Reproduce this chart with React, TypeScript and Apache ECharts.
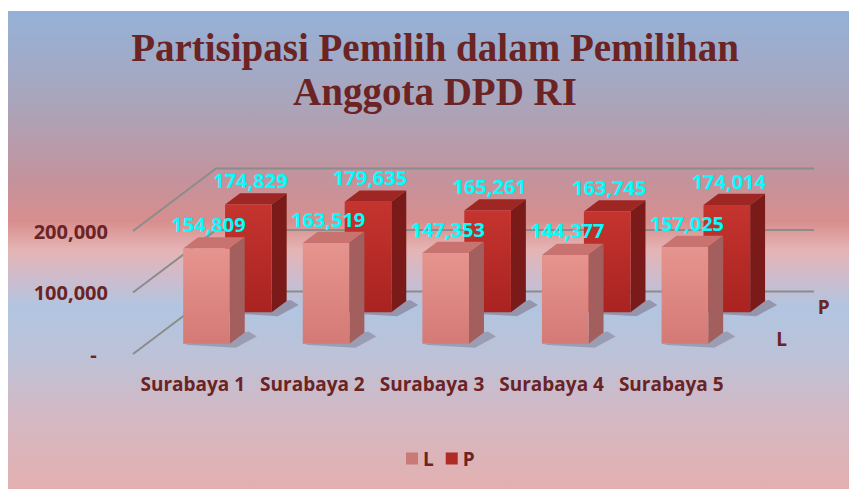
import React, { useEffect, useRef } from "react";
import * as echarts from "echarts";

// ---- data ----
const categories = ["Surabaya 1", "Surabaya 2", "Surabaya 3", "Surabaya 4", "Surabaya 5"];
const valuesL = [154809, 163519, 147353, 144377, 157025];
const valuesP = [174829, 179635, 165261, 163745, 174014];
const yTicks = [0, 100000, 200000];
const seriesNames = ["L", "P"];
const titleLines = ["Partisipasi Pemilih dalam Pemilihan", "Anggota DPD RI"];

// ---- 3D geometry (pixels) ----
const DX = 83;
const DY = -62.5;
const ROW_DEPTH: Record<string, number> = { L: 0.165, P: 0.67 };
const BAR_DEPTH = 0.18;
const BAR_WIDTH = 0.39;

const TEXT_DARK = "#6b2323";
const FONT = "'Open Sans', 'Noto Sans', sans-serif";

const fmt = (v: number) => v.toLocaleString("en-US");

function lg(stops: [number, string][], horizontal = false) {
  return new echarts.graphic.LinearGradient(0, 0, horizontal ? 1 : 0, horizontal ? 0 : 1,
    stops.map(([offset, color]) => ({ offset, color })));
}

const faceColors: Record<string, { front: any; side: string; top: string; shadow: string }> = {
  L: {
    front: lg([[0, "#e6948f"], [1, "#d47a76"]]),
    side: "#a35f5d",
    top: "#c8736f",
    shadow: "rgba(80,60,80,0.28)",
  },
  P: {
    front: lg([[0, "#c5342f"], [1, "#a92320"]]),
    side: "#7a1b19",
    top: "#9e2623",
    shadow: "rgba(80,40,60,0.30)",
  },
};

function barRenderer(name: string) {
  const f = ROW_DEPTH[name];
  const c = faceColors[name];
  return (params: any, api: any) => {
    const idx = api.value(0);
    const val = api.value(1);
    const base = api.coord([idx, 0]);
    const topP = api.coord([idx, val]);
    const band = api.size([1, 0])[0];
    const w = band * BAR_WIDTH;
    const ox = f * DX;
    const oy = f * DY;
    const x0 = base[0] - w / 2 + ox;
    const x1 = x0 + w;
    const yb = base[1] + oy;
    const yt = topP[1] + oy;
    const dx = BAR_DEPTH * DX;
    const dy = BAR_DEPTH * DY;
    return {
      type: "group",
      children: [
        {
          type: "polygon",
          shape: {
            points: [
              [x0 + 2, yb + 1],
              [x1 + 6, yb + 4],
              [x1 + dx + 12, yb + dy + 4],
              [x1 + dx + 4, yb + dy - 1],
            ],
          },
          style: { fill: c.shadow },
        },
        {
          type: "polygon",
          shape: { points: [[x0, yt], [x0 + dx, yt + dy], [x1 + dx, yt + dy], [x1, yt]] },
          style: { fill: c.top },
        },
        {
          type: "polygon",
          shape: { points: [[x1, yt], [x1 + dx, yt + dy], [x1 + dx, yb + dy], [x1, yb]] },
          style: { fill: c.side },
        },
        {
          type: "rect",
          shape: { x: x0, y: yt, width: w, height: yb - yt },
          style: { fill: c.front },
        },
        {
          type: "text",
          x: x0 + w / 2 + 2,
          y: yt - 24,
          style: {
            text: fmt(val),
            fill: "#00ffff",
            fontSize: 20,
            fontWeight: "bold",
            fontFamily: FONT,
            align: "center",
            verticalAlign: "middle",
          },
        },
      ],
    };
  };
}

export default function App() {
  const ref = useRef<HTMLDivElement>(null);
  useEffect(() => {
    if (!ref.current) return;
    const chart = echarts.init(ref.current, undefined, { renderer: "svg" });
    const W = 841;
    const H = 478;
    chart.setOption({
      animation: false,
      graphic: [
        {
          type: "rect",
          left: 0,
          top: 0,
          z: -100,
          silent: true,
          shape: { x: 0, y: 0, width: W, height: H },
          style: {
            fill: lg([
              [0, "#95b1d7"],
              [0.18, "#a8a6bd"],
              [0.35, "#c3939d"],
              [0.44, "#d88e8e"],
              [0.5, "#e5b4b4"],
              [0.56, "#cdbccd"],
              [0.62, "#b1c5e0"],
              [0.72, "#bcc2d8"],
              [0.85, "#d4b8c3"],
              [1, "#e3b0b0"],
            ]),
          },
        },
        {
          type: "text",
          x: 427,
          y: 15,
          z: 10,
          silent: true,
          style: {
            text: titleLines.join("\n"),
            fontFamily: "'Liberation Serif', 'Times New Roman', serif",
            fontWeight: "bold",
            fontSize: 39,
            lineHeight: 43.5,
            fill: TEXT_DARK,
            align: "center",
            verticalAlign: "top",
          },
        },
      ],
      legend: {
        data: seriesNames,
        left: 393,
        top: 433,
        itemWidth: 12,
        itemHeight: 12,
        itemGap: 12,
        icon: "rect",
        textStyle: { color: TEXT_DARK, fontWeight: "bold", fontSize: 19, fontFamily: FONT },
      },
      grid: {
        left: 125,
        top: 220,
        width: 598,
        height: 123,
        containLabel: false,
        outerBoundsMode: "none",
      },
      xAxis: {
        type: "category",
        data: categories,
        axisLine: { show: false },
        axisTick: { show: false },
        axisLabel: {
          interval: 0,
          margin: 20,
          color: TEXT_DARK,
          fontWeight: "bold",
          fontSize: 19,
          fontFamily: FONT,
        },
      },
      yAxis: {
        type: "value",
        min: 0,
        max: 200000,
        interval: 100000,
        axisLine: { show: false },
        axisTick: { show: false },
        splitLine: { show: false },
        axisLabel: {
          margin: 25,
          color: TEXT_DARK,
          fontWeight: "bold",
          fontSize: 20,
          fontFamily: FONT,
          formatter: (v: number) => (v === 0 ? "-\u2007" : fmt(v)),
        },
      },
      series: [
        {
          type: "custom",
          name: "walls",
          z: 1,
          silent: true,
          data: yTicks.map((v) => [0, v]),
          renderItem: (params: any, api: any) => {
            const cs = params.coordSys;
            const y = api.coord([0, api.value(1)])[1];
            const x = cs.x;
            return {
              type: "polyline",
              shape: {
                points: [
                  [x, y],
                  [x + DX, y + DY],
                  [x + cs.width + DX, y + DY],
                ],
              },
              style: { stroke: "#8c8c8c", lineWidth: 2, fill: null },
            };
          },
        },
        {
          type: "custom",
          name: "depthLabels",
          z: 1,
          silent: true,
          data: seriesNames.map(() => [0, 0]),
          renderItem: (params: any, api: any) => {
            const cs = params.coordSys;
            const nm = seriesNames[params.dataIndex];
            const f = ROW_DEPTH[nm];
            const y0 = api.coord([0, 0])[1];
            return {
              type: "text",
              x: cs.x + cs.width + f * DX + 37,
              y: y0 + f * DY - 5,
              style: {
                text: nm,
                fill: TEXT_DARK,
                fontSize: 19,
                fontWeight: "bold",
                fontFamily: FONT,
                align: "center",
                verticalAlign: "middle",
              },
            };
          },
        },
        {
          type: "custom",
          name: "P",
          z: 2,
          itemStyle: { color: "#b02a26" },
          data: valuesP.map((v, i) => [i, v]),
          renderItem: barRenderer("P"),
        },
        {
          type: "custom",
          name: "L",
          z: 3,
          itemStyle: { color: "#c97a76" },
          data: valuesL.map((v, i) => [i, v]),
          renderItem: barRenderer("L"),
        },
      ],
    });
    return () => chart.dispose();
  }, []);
  return (
    <div
      ref={ref}
      style={{ position: "absolute", left: 8, top: 11, width: 841, height: 478 }}
    />
  );
}
